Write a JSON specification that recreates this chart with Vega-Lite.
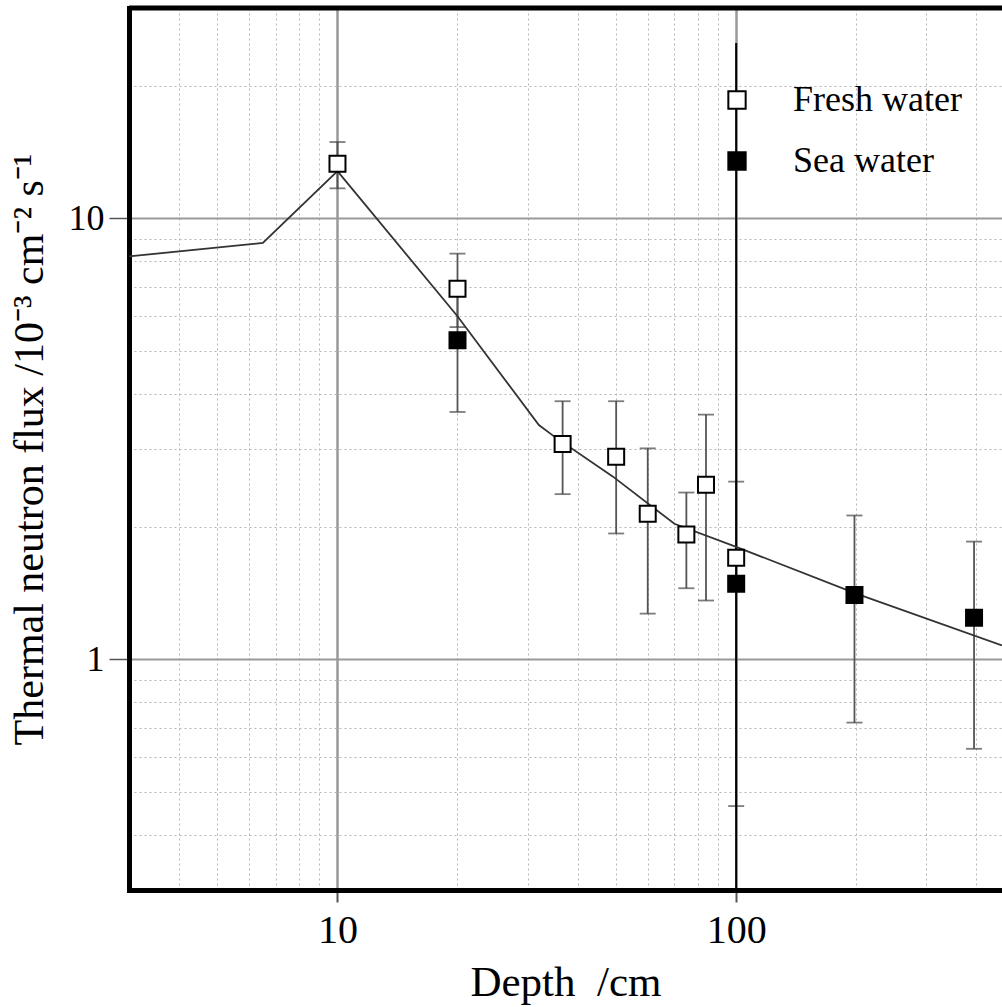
{
  "$schema": "https://vega.github.io/schema/vega-lite/v6.json",
  "width": 873,
  "height": 882,
  "autosize": "none",
  "padding": {"left": 129, "top": 8, "right": 0, "bottom": 117},
  "background": "white",
  "config": {"font": "Liberation Serif", "view": {"stroke": null}},
  "datasets": {
    "points": [
      {"water": "Fresh water", "depth": 10, "flux": 13.3, "lo": 11.7, "hi": 14.9},
      {"water": "Fresh water", "depth": 20, "flux": 6.93, "lo": 5.67, "hi": 8.32},
      {"water": "Sea water", "depth": 20, "flux": 5.29, "lo": 3.64, "hi": 6.94},
      {"water": "Fresh water", "depth": 36.7, "flux": 3.08, "lo": 2.37, "hi": 3.85},
      {"water": "Fresh water", "depth": 50, "flux": 2.88, "lo": 1.93, "hi": 3.85},
      {"water": "Fresh water", "depth": 60, "flux": 2.14, "lo": 1.27, "hi": 3.01},
      {"water": "Fresh water", "depth": 75, "flux": 1.92, "lo": 1.45, "hi": 2.39},
      {"water": "Fresh water", "depth": 84, "flux": 2.49, "lo": 1.36, "hi": 3.59},
      {"water": "Fresh water", "depth": 100, "flux": 1.7, "lo": 0.465, "hi": 2.53},
      {"water": "Sea water", "depth": 100, "flux": 1.485, "lo": 0.3, "hi": 25},
      {"water": "Sea water", "depth": 198, "flux": 1.4, "lo": 0.719, "hi": 2.12},
      {"water": "Sea water", "depth": 395, "flux": 1.243, "lo": 0.627, "hi": 1.85}
    ],
    "model": [
      {"depth": 3, "flux": 8.2},
      {"depth": 6.5, "flux": 8.8},
      {"depth": 10, "flux": 12.8},
      {"depth": 20, "flux": 6.0},
      {"depth": 32, "flux": 3.4},
      {"depth": 35, "flux": 3.2},
      {"depth": 49, "flux": 2.6},
      {"depth": 70, "flux": 2.03},
      {"depth": 100, "flux": 1.8},
      {"depth": 200, "flux": 1.41},
      {"depth": 464, "flux": 1.076}
    ]
  },
  "layer": [
    {
      "data": {"name": "points"},
      "transform": [{"filter": "!(datum.water == 'Sea water' && datum.depth == 100)"}],
      "mark": {"type": "rule", "color": "#555", "strokeWidth": 1.8, "clip": true},
      "encoding": {
        "x": {
          "field": "depth", "type": "quantitative",
          "scale": {"type": "log", "domain": [3, 464.2], "nice": false},
          "axis": {
            "title": "Depth\u00a0 /cm",
            "values": [4, 5, 6, 7, 8, 9, 10, 20, 30, 40, 50, 60, 70, 80, 90, 100, 200, 300, 400],
            "format": "d",
            "labelExpr": "(datum.value == 10 || datum.value == 100) ? datum.label : ''",
            "labelFont": "Liberation Serif", "labelFontSize": 40, "labelColor": "black",
            "labelPadding": 8, "labelOverlap": false, "labelFlush": false,
            "titleFont": "Liberation Serif", "titleFontSize": 43, "titleFontWeight": "normal",
            "titleColor": "black", "titlePadding": 11,
            "domainColor": "black", "domainWidth": 5, "domainCap": "square",
            "tickColor": "#555", "tickWidth": 2, "tickSize": 12,
            "tickOpacity": {"condition": {"test": "datum.value == 10 || datum.value == 100", "value": 1}, "value": 0},
            "grid": true,
            "gridColor": {"condition": {"test": "datum.value == 10 || datum.value == 100", "value": "#999"}, "value": "#b5b5b5"},
            "gridWidth": {"condition": {"test": "datum.value == 10 || datum.value == 100", "value": 2.5}, "value": 1},
            "gridDash": {"condition": {"test": "datum.value == 10 || datum.value == 100", "value": []}, "value": [2, 3]}
          }
        },
        "y": {
          "field": "lo", "type": "quantitative",
          "scale": {"type": "log", "domain": [0.3, 30], "nice": false},
          "axis": {
            "title": "Thermal neutron flux /10⁻³ cm⁻² s⁻¹",
            "values": [0.4, 0.5, 0.6, 0.7, 0.8, 0.9, 1, 2, 3, 4, 5, 6, 7, 8, 9, 10, 20],
            "format": "~g",
            "labelExpr": "(datum.value == 1 || datum.value == 10) ? datum.label : ''",
            "labelFont": "Liberation Serif", "labelFontSize": 36, "labelColor": "black",
            "labelPadding": 5, "labelOverlap": false, "labelFlush": false,
            "titleFont": "Liberation Serif", "titleFontSize": 42, "titleFontWeight": "normal",
            "titleColor": "black", "titlePadding": 17,
            "domainColor": "black", "domainWidth": 5, "domainCap": "square",
            "tickColor": "#555", "tickWidth": 1.5, "tickSize": 20,
            "tickOpacity": {"condition": {"test": "datum.value == 1 || datum.value == 10", "value": 1}, "value": 0},
            "grid": true,
            "gridColor": {"condition": {"test": "datum.value == 1 || datum.value == 10", "value": "#999"}, "value": "#b5b5b5"},
            "gridWidth": {"condition": {"test": "datum.value == 1 || datum.value == 10", "value": 2}, "value": 1},
            "gridDash": {"condition": {"test": "datum.value == 1 || datum.value == 10", "value": []}, "value": [2, 3]}
          }
        },
        "y2": {"field": "hi"}
      }
    },
    {
      "data": {"name": "points"},
      "transform": [{"filter": "!(datum.water == 'Sea water' && datum.depth == 100)"}],
      "mark": {"type": "tick", "orient": "horizontal", "size": 16, "thickness": 1.8, "color": "#444", "clip": true},
      "encoding": {
        "x": {"field": "depth", "type": "quantitative", "scale": {"type": "log", "domain": [3, 464.2], "nice": false}},
        "y": {"field": "lo", "type": "quantitative", "scale": {"type": "log", "domain": [0.3, 30], "nice": false}}
      }
    },
    {
      "data": {"name": "points"},
      "transform": [{"filter": "!(datum.water == 'Sea water' && datum.depth == 100)"}],
      "mark": {"type": "tick", "orient": "horizontal", "size": 16, "thickness": 1.8, "color": "#444", "clip": true},
      "encoding": {
        "x": {"field": "depth", "type": "quantitative", "scale": {"type": "log", "domain": [3, 464.2], "nice": false}},
        "y": {"field": "hi", "type": "quantitative", "scale": {"type": "log", "domain": [0.3, 30], "nice": false}}
      }
    },
    {
      "data": {"name": "points"},
      "transform": [{"filter": "datum.water == 'Sea water' && datum.depth == 100"}],
      "mark": {"type": "rule", "color": "black", "strokeWidth": 2, "clip": true},
      "encoding": {
        "x": {"field": "depth", "type": "quantitative", "scale": {"type": "log", "domain": [3, 464.2], "nice": false}},
        "y": {"field": "lo", "type": "quantitative", "scale": {"type": "log", "domain": [0.3, 30], "nice": false}},
        "y2": {"field": "hi"}
      }
    },
    {
      "data": {"name": "model"},
      "mark": {"type": "line", "color": "#333", "strokeWidth": 1.8, "clip": true},
      "encoding": {
        "x": {"field": "depth", "type": "quantitative", "scale": {"type": "log", "domain": [3, 464.2], "nice": false}},
        "y": {"field": "flux", "type": "quantitative", "scale": {"type": "log", "domain": [0.3, 30], "nice": false}}
      }
    },
    {
      "data": {"name": "points"},
      "mark": {"type": "point", "shape": "square", "filled": true, "size": 256, "stroke": "black", "strokeWidth": 2, "opacity": 1, "clip": true},
      "encoding": {
        "x": {"field": "depth", "type": "quantitative", "scale": {"type": "log", "domain": [3, 464.2], "nice": false}},
        "y": {"field": "flux", "type": "quantitative", "scale": {"type": "log", "domain": [0.3, 30], "nice": false}},
        "fill": {
          "field": "water", "type": "nominal",
          "scale": {"domain": ["Fresh water", "Sea water"], "range": ["white", "black"]},
          "legend": {
            "title": null, "orient": "none", "legendX": 590, "legendY": 74, "padding": 0,
            "symbolType": "square", "symbolSize": 300, "symbolStrokeColor": "black", "symbolStrokeWidth": 2,
            "symbolOpacity": 1,
            "labelFont": "Liberation Serif", "labelFontSize": 36, "labelColor": "black", "labelLimit": 0,
            "labelOffset": 38, "rowPadding": 25
          }
        }
      }
    },
    {
      "data": {"values": [{}]},
      "mark": {"type": "rule", "color": "black", "strokeWidth": 5},
      "encoding": {"y": {"datum": 30, "type": "quantitative", "scale": {"type": "log", "domain": [0.3, 30], "nice": false}}}
    }
  ]
}
